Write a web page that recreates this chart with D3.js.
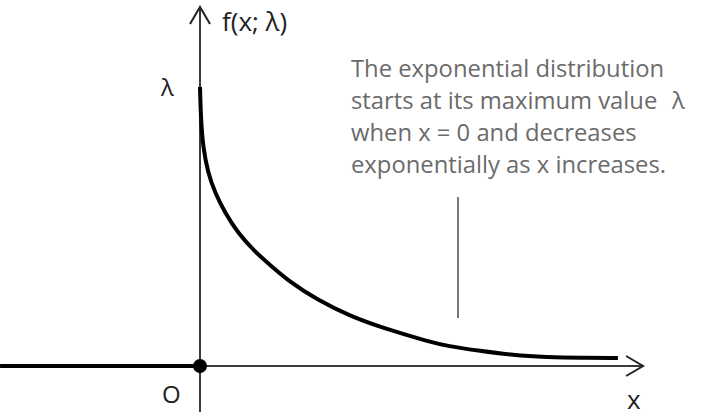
<!DOCTYPE html>
<html>
<head>
<meta charset="utf-8">
<script src="https://cdn.jsdelivr.net/npm/d3@7"></script>
<style>
  html, body { margin: 0; padding: 0; background: #fff; }
  svg { display: block; }
</style>
</head>
<body>
<div id="chart"></div>
<script>
// curve (x in units of the drawing, f(x) as a fraction of lambda)
const curveX = [0, 0.02, 0.07, 0.19, 0.36, 0.6, 0.9, 1.31, 1.67, 2.14, 2.79, 3.57, 4.36, 5.48, 5.88, 6.67, 7.45, 8.26, 9.05, 9.95];
const curveY = [1.0, 0.892, 0.785, 0.692, 0.62, 0.548, 0.477, 0.409, 0.362, 0.301, 0.237, 0.179, 0.136, 0.086, 0.072, 0.054, 0.039, 0.032, 0.029, 0.029];

// extent of the axes
const xAxisExtent = [-4.76, 10.55];
const yAxisExtent = [-0.165, 1.287];

const noteLines = [
  "The exponential distribution",
  "starts at its maximum value",
  "when x = 0 and decreases",
  "exponentially as x increases."
];

const width = 720, height = 419;

const svg = d3.select("#chart").append("svg")
  .attr("width", width)
  .attr("height", height);

// scales
const x = d3.scaleLinear().domain([0, 10]).range([200, 620]);
const y = d3.scaleLinear().domain([0, 1]).range([366, 87]);

const axisColor = "#3a3a3a";

// x axis
svg.append("line")
  .attr("x1", x(xAxisExtent[0])).attr("x2", x(xAxisExtent[1]))
  .attr("y1", y(0)).attr("y2", y(0))
  .attr("stroke", axisColor).attr("stroke-width", 2);

// y axis
svg.append("line")
  .attr("x1", x(0)).attr("x2", x(0))
  .attr("y1", y(yAxisExtent[0])).attr("y2", y(yAxisExtent[1]))
  .attr("stroke", axisColor).attr("stroke-width", 2);

// arrow heads (open chevrons)
const xt = x(xAxisExtent[1]), yt = y(yAxisExtent[1]);
svg.append("path")
  .attr("d", `M${xt - 17},${y(0) - 10}L${xt},${y(0)}L${xt - 17},${y(0) + 10}`)
  .attr("fill", "none").attr("stroke", "#222").attr("stroke-width", 2);
svg.append("path")
  .attr("d", `M${x(0) - 10},${yt + 17}L${x(0)},${yt}L${x(0) + 10},${yt + 17}`)
  .attr("fill", "none").attr("stroke", "#222").attr("stroke-width", 2);

// f(x) = 0 for x < 0
svg.append("line")
  .attr("x1", x(xAxisExtent[0])).attr("x2", x(0))
  .attr("y1", y(0)).attr("y2", y(0))
  .attr("stroke", "#000").attr("stroke-width", 4);

// the density curve
const pts = curveX.map((d, i) => [d, curveY[i]]);
const line = d3.line()
  .x(d => x(d[0]))
  .y(d => y(d[1]))
  .curve(d3.curveBasis);

svg.append("path")
  .datum(pts)
  .attr("d", line)
  .attr("fill", "none")
  .attr("stroke", "#000")
  .attr("stroke-width", 4);

// point at origin
svg.append("circle")
  .attr("cx", x(0)).attr("cy", y(0)).attr("r", 7)
  .attr("fill", "#000");

// labels
const font = "'Open Sans', 'Noto Sans', sans-serif";
function label(txt, px, py, size, color) {
  return svg.append("text")
    .attr("x", px).attr("y", py)
    .attr("font-family", font)
    .attr("font-size", size)
    .attr("fill", color || "#222")
    .text(txt);
}
label("f(x; λ)", 222, 31, 26);
label("λ", 161, 96, 24);
label("O", 162, 403, 24);
label("x", 627, 409, 26);

// annotation
const noteColor = "#6b6b6b";
noteLines.forEach((t, i) => {
  label(t, 351, 77 + i * 32, 23.8, noteColor);
});
label("λ", 672, 109, 23.8, noteColor);

// pointer line
svg.append("line")
  .attr("x1", 458).attr("x2", 458)
  .attr("y1", 197).attr("y2", 318)
  .attr("stroke", "#777").attr("stroke-width", 2);
</script>
</body>
</html>
